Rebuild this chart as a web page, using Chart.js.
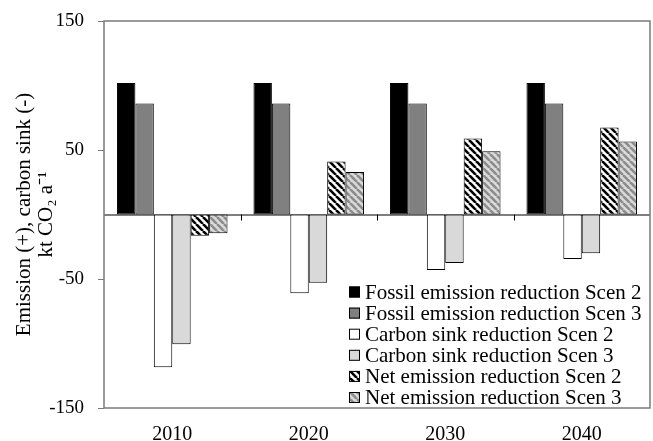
<!DOCTYPE html>
<html>
<head>
<meta charset="utf-8">
<script src="https://cdn.jsdelivr.net/npm/chart.js@4/dist/chart.umd.min.js"></script>
<style>
  html, body { margin: 0; padding: 0; background: #fff; }
  #wrap { width: 653px; height: 441px; position: relative; }
</style>
</head>
<body>
<div id="wrap"><canvas id="chart" width="653" height="441"></canvas></div>
<script>
// ---- data ----
const years = ['2010', '2020', '2030', '2040'];
const fossilScen2 = [102, 102, 102, 102];
const fossilScen3 = [86, 86, 86, 86];
const sinkScen2   = [-118.5, -61, -43, -34.5];
const sinkScen3   = [-100.5, -53, -37.5, -30];
const netScen2    = [-16.5, 41, 59, 67.5];
const netScen3    = [-14.5, 33, 49, 56.5];
const yTicks = [-150, -50, 50, 150];

const FONT = '"Liberation Serif", "Times New Roman", serif';

// diagonal "\" hatch
function hatch(bg, fg, lw) {
  const s = 7;
  const c = document.createElement('canvas');
  c.width = s; c.height = s;
  const g = c.getContext('2d');
  g.fillStyle = bg; g.fillRect(0, 0, s, s);
  g.strokeStyle = fg; g.lineWidth = lw;
  for (let k = -1; k <= 1; k++) {
    g.beginPath();
    g.moveTo(k * s, 0);
    g.lineTo(k * s + s, s);
    g.stroke();
  }
  return g.createPattern(c, 'repeat');
}

const ctx = document.getElementById('chart').getContext('2d');

const series = [
  { label: 'Fossil emission reduction Scen 2', data: fossilScen2, fill: '#000000' },
  { label: 'Fossil emission reduction Scen 3', data: fossilScen3, fill: '#808080' },
  { label: 'Carbon sink reduction Scen 2',     data: sinkScen2,   fill: '#ffffff' },
  { label: 'Carbon sink reduction Scen 3',     data: sinkScen3,   fill: '#d9d9d9' },
  { label: 'Net emission reduction Scen 2',    data: netScen2,    fill: hatch('#ffffff', '#000000', 2.6) },
  { label: 'Net emission reduction Scen 3',    data: netScen3,    fill: hatch('#dadada', '#8c8c8c', 2.6) },
];

// frame, zero line, category ticks on the zero line, legend
const framePlugin = {
  id: 'frame',
  beforeDatasetsDraw(chart) {
    const { ctx, chartArea: a, scales } = chart;
    const y0 = scales.y.getPixelForValue(0);
    ctx.save();
    ctx.strokeStyle = '#000';
    ctx.lineWidth = 1;
    ctx.beginPath();
    ctx.moveTo(a.left, y0 + 0.5);
    ctx.lineTo(a.right, y0 + 0.5);
    const step = (a.right - a.left) / years.length;
    for (let i = 1; i < years.length; i++) {
      const x = Math.round(a.left + i * step) + 0.5;
      ctx.moveTo(x, y0);
      ctx.lineTo(x, y0 + 6);
    }
    ctx.stroke();
    ctx.restore();
  },
  afterDraw(chart) {
    const { ctx, chartArea: a } = chart;
    ctx.save();
    ctx.strokeStyle = '#7a7a7a';
    ctx.lineWidth = 1.5;
    ctx.strokeRect(a.left, a.top, a.right - a.left, a.bottom - a.top);

    // legend, lower right inside the plot
    ctx.font = '21px ' + FONT;
    ctx.textBaseline = 'middle';
    chart.data.datasets.forEach((ds, i) => {
      const y = 292 + i * 21.1;
      ctx.fillStyle = ds.backgroundColor;
      ctx.fillRect(349, y - 5.5, 11, 11);
      ctx.strokeStyle = '#000';
      ctx.lineWidth = 1;
      ctx.strokeRect(349.5, y - 5, 10, 10);
      ctx.fillStyle = '#000';
      ctx.fillText(ds.label, 365, y + 1);
    });
    ctx.restore();
  }
};

new Chart(ctx, {
  type: 'bar',
  data: {
    labels: years,
    datasets: series.map(s => ({
      label: s.label,
      data: s.data,
      backgroundColor: s.fill,
      borderColor: '#000',
      borderWidth: 1,
      borderSkipped: false,
      categoryPercentage: 0.81,
      barPercentage: 1.0,
    })),
  },
  options: {
    responsive: false,
    animation: false,
    devicePixelRatio: 1,
    layout: { padding: { top: 21, right: 3, left: 0, bottom: 0 } },
    plugins: {
      legend: { display: false },
      tooltip: { enabled: false },
    },
    scales: {
      x: {
        grid: { display: false },
        border: { display: false },
        ticks: { color: '#000', font: { family: FONT, size: 20 }, padding: 7 },
        afterFit(scale) { scale.height = 33; scale.paddingLeft = 0; scale.paddingRight = 0; },
      },
      y: {
        min: -150,
        max: 150,
        afterBuildTicks(scale) { scale.ticks = yTicks.map(v => ({ value: v })); },
        grid: { drawOnChartArea: false, drawTicks: true, tickLength: 6, color: '#7a7a7a' },
        border: { display: false },
        ticks: { color: '#000', font: { family: FONT, size: 19 }, padding: 14 },
        title: {
          display: true,
          text: ['Emission (+), carbon sink (-)', 'kt CO\u2082 a\u207B\u00B9'],
          color: '#000',
          font: { family: FONT, size: 21, lineHeight: 1.05 },
          padding: { top: 13, bottom: 0 },
        },
        afterFit(scale) { scale.width = 104; scale.paddingTop = 0; scale.paddingBottom = 0; },
      },
    },
  },
  plugins: [framePlugin],
});
</script>
</body>
</html>
